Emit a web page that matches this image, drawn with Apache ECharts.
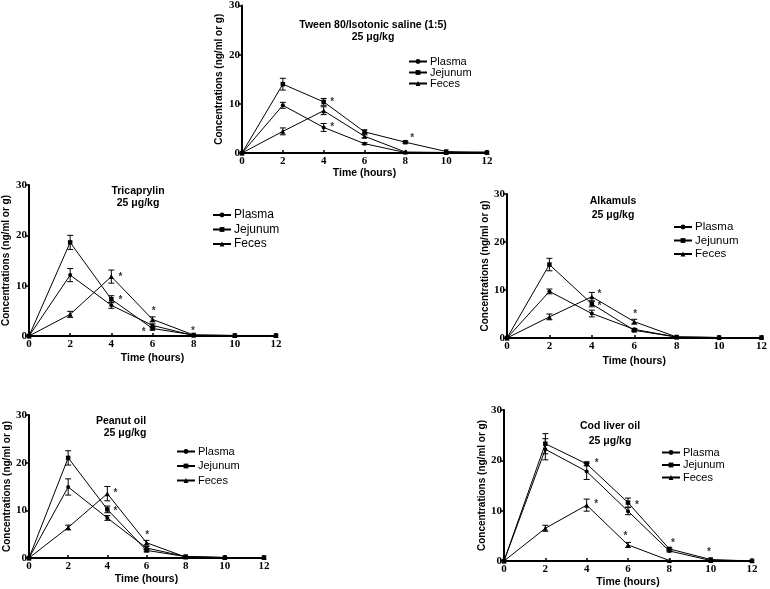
<!DOCTYPE html>
<html>
<head>
<meta charset="utf-8">
<script src="https://cdn.jsdelivr.net/npm/echarts@6/dist/echarts.min.js"></script>
<style>html,body{margin:0;padding:0;background:#fff}#c{width:770px;height:589px}</style>
</head>
<body>
<div id="c"></div>
<script>
var times = [0, 2, 4, 6, 8, 10, 12];
var seriesNames = ['Plasma', 'Jejunum', 'Feces'];
var yTicks = [0, 10, 20, 30];

// Tween 80/Isotonic saline (1:5)
var tweenPlasma   = [0, 9.7, 5.2, 1.9, 0.1, 0.1, 0.1];
var tweenJejunum  = [0, 14.0, 10.4, 4.3, 2.2, 0.3, 0.1];
var tweenFeces    = [0, 4.4, 8.6, 3.4, 0.2, 0.1, 0.2];
var tweenPlasmaErr  = [0, 0.6, 0.8, 0.2, 0, 0, 0];
var tweenJejunumErr = [0, 1.2, 0.7, 0.4, 0.2, 0, 0];
var tweenFecesErr   = [0, 0.7, 0.8, 0.3, 0, 0, 0];
var tweenStars = [[4.42, 10.75], [4.42, 5.65], [8.33, 3.36]];

// Tricaprylin
var triPlasma   = [0, 12.1, 6.1, 2.1, 0.1, 0.1, 0.1];
var triJejunum  = [0, 18.6, 7.3, 1.5, 0.2, 0.1, 0.1];
var triFeces    = [0, 4.3, 11.8, 3.3, 0.2, 0.1, 0.1];
var triPlasmaErr  = [0, 1.3, 0.6, 0.3, 0, 0, 0];
var triJejunumErr = [0, 1.4, 0.7, 0.3, 0, 0, 0];
var triFecesErr   = [0, 0.6, 1.3, 0.5, 0, 0, 0];
var triStars = [[4.44, 12.1], [4.44, 7.45], [6.06, 5.3], [5.57, 1.1], [7.97, 1.3]];

// Alkamuls
var alkPlasma   = [0, 9.7, 5.1, 1.8, 0.2, 0.1, 0.1];
var alkJejunum  = [0, 15.3, 7.1, 1.6, 0.2, 0.1, 0.1];
var alkFeces    = [0, 4.4, 8.6, 3.4, 0.2, 0.1, 0.1];
var alkPlasmaErr  = [0, 0.5, 0.7, 0.2, 0, 0, 0];
var alkJejunumErr = [0, 1.3, 0.6, 0.3, 0, 0, 0];
var alkFecesErr   = [0, 0.6, 0.9, 0.5, 0, 0, 0];
var alkStars = [[4.36, 9.5], [4.36, 7.0], [6.04, 5.3]];

// Peanut oil
var peaPlasma   = [0, 14.9, 8.4, 2.1, 0.3, 0.1, 0.1];
var peaJejunum  = [0, 21.0, 10.2, 1.6, 0.3, 0.1, 0.1];
var peaFeces    = [0, 6.4, 13.5, 3.2, 0.2, 0.1, 0.1];
var peaPlasmaErr  = [0, 1.7, 0.5, 0.3, 0, 0, 0];
var peaJejunumErr = [0, 1.5, 0.7, 0.3, 0, 0, 0];
var peaFecesErr   = [0, 0.5, 1.5, 0.5, 0, 0, 0];
var peaStars = [[4.41, 14.1], [4.41, 10.2], [6.03, 5.1]];

// Cod liver oil
var codPlasma   = [0, 22.2, 17.8, 9.9, 2.0, 0.1, 0];
var codJejunum  = [0, 23.3, 19.3, 11.6, 2.4, 0.3, 0];
var codFeces    = [0, 6.5, 11.1, 3.2, 0.1, 0.1, 0.1];
var codPlasmaErr  = [0, 2.1, 1.6, 0.7, 0.2, 0, 0];
var codJejunumErr = [0, 2.0, 0.4, 0.9, 0.2, 0, 0];
var codFecesErr   = [0, 0.6, 1.2, 0.5, 0, 0, 0];
var codStars = [[4.49, 19.9], [4.46, 11.6], [6.43, 11.5], [5.88, 5.3], [8.17, 3.9], [9.92, 2.2]];

var panelTitles = [
  ['Tween 80/Isotonic saline (1:5)', '25 μg/kg'],
  ['Tricaprylin', '25 μg/kg'],
  ['Alkamuls', '25 μg/kg'],
  ['Peanut oil', '25 μg/kg'],
  ['Cod liver oil', '25 μg/kg']
];

var panels = [
  {values: [tweenPlasma, tweenJejunum, tweenFeces], errs: [tweenPlasmaErr, tweenJejunumErr, tweenFecesErr], stars: tweenStars,
   grid: {left: 242, top: 4, width: 245, height: 149}, yGap: 18, xGap: 15,
   legend: {left: 408, top: 56, gap: 0, font: 11},
   title: [{x: 373, y: 25}, {x: 373, y: 37}]},
  {values: [triPlasma, triJejunum, triFeces], errs: [triPlasmaErr, triJejunumErr, triFecesErr], stars: triStars,
   grid: {left: 29, top: 185, width: 247, height: 151}, yGap: 18, xGap: 17,
   legend: {left: 212, top: 209, gap: 2.5, font: 12},
   title: [{x: 138, y: 191}, {x: 138, y: 203}]},
  {values: [alkPlasma, alkJejunum, alkFeces], errs: [alkPlasmaErr, alkJejunumErr, alkFecesErr], stars: alkStars,
   grid: {left: 507, top: 194, width: 258, height: 144}, yGap: 15, xGap: 18,
   legend: {left: 673, top: 221, gap: 1.5, font: 11.5},
   title: [{x: 613, y: 201}, {x: 613, y: 215}]},
  {values: [peaPlasma, peaJejunum, peaFeces], errs: [peaPlasmaErr, peaJejunumErr, peaFecesErr], stars: peaStars,
   grid: {left: 29, top: 415, width: 235, height: 143}, yGap: 17, xGap: 16,
   legend: {left: 176, top: 446, gap: 3.5, font: 11},
   title: [{x: 121, y: 421}, {x: 125, y: 433}]},
  {values: [codPlasma, codJejunum, codFeces], errs: [codPlasmaErr, codJejunumErr, codFecesErr], stars: codStars,
   grid: {left: 504, top: 410, width: 248, height: 151}, yGap: 15, xGap: 16,
   legend: {left: 661, top: 447, gap: 1.5, font: 11},
   title: [{x: 610, y: 426}, {x: 610, y: 441}]}
];

var symbols = ['circle', 'rect', 'triangle'];
var symbolSizes = [4, 4.5, 5];
var serifFont = 'Liberation Serif';
var sansFont = 'Liberation Sans';

var grids = [], xAxes = [], yAxes = [], legends = [], series = [], graphics = [];

function errRender(params, api) {
  var x = api.value(0), y = api.value(1), e = api.value(2);
  if (!e) return null;
  var top = api.coord([x, y + e]);
  var bot = api.coord([x, y - e]);
  var cw = 3;
  var st = {stroke: '#000', lineWidth: 1};
  return {type: 'group', children: [
    {type: 'line', shape: {x1: top[0], y1: top[1], x2: bot[0], y2: bot[1]}, style: st},
    {type: 'line', shape: {x1: top[0] - cw, y1: top[1], x2: top[0] + cw, y2: top[1]}, style: st},
    {type: 'line', shape: {x1: bot[0] - cw, y1: bot[1], x2: bot[0] + cw, y2: bot[1]}, style: st}
  ]};
}

panels.forEach(function (p, i) {
  grids.push(Object.assign({containLabel: false}, p.grid));
  xAxes.push({
    gridIndex: i, type: 'value', min: 0, max: 12, interval: 2,
    name: 'Time (hours)', nameLocation: 'middle', nameGap: p.xGap,
    nameTextStyle: {fontFamily: sansFont, fontWeight: 'bold', fontSize: 10.5, color: '#000'},
    axisLine: {show: true, onZero: false, lineStyle: {color: '#000', width: 2}},
    axisTick: {show: true, inside: true, length: 3, lineStyle: {color: '#000', width: 1.5}},
    axisLabel: {fontFamily: serifFont, fontWeight: 'bold', fontSize: 11, color: '#000', margin: 3},
    splitLine: {show: false}
  });
  yAxes.push({
    gridIndex: i, type: 'value', min: yTicks[0], max: yTicks[yTicks.length - 1], interval: yTicks[1] - yTicks[0],
    name: 'Concentrations (ng/ml or g)', nameLocation: 'middle', nameGap: p.yGap,
    nameTextStyle: {fontFamily: sansFont, fontWeight: 'bold', fontSize: 10, color: '#000'},
    axisLine: {show: true, onZero: false, lineStyle: {color: '#000', width: 2}},
    axisTick: {show: true, inside: false, length: 3, lineStyle: {color: '#000', width: 1.5}},
    axisLabel: {fontFamily: serifFont, fontWeight: 'bold', fontSize: 11, color: '#000', margin: 2},
    splitLine: {show: false}
  });
  legends.push({
    orient: 'vertical', left: p.legend.left, top: p.legend.top,
    itemWidth: 18, itemHeight: 6, itemGap: p.legend.gap, padding: 0,
    selectedMode: false, data: seriesNames,
    textStyle: {fontFamily: sansFont, fontSize: p.legend.font, color: '#000', lineHeight: 11, padding: [0, 0, 0, -2]}
  });
  seriesNames.forEach(function (nm, k) {
    series.push({
      name: nm, type: 'line', xAxisIndex: i, yAxisIndex: i,
      data: times.map(function (t, j) { return [t, p.values[k][j]]; }),
      symbol: symbols[k], symbolSize: symbolSizes[k], showAllSymbol: true,
      lineStyle: {color: '#000', width: 1}, itemStyle: {color: '#000'},
      silent: true, animation: false, z: 3
    });
    series.push({
      type: 'custom', xAxisIndex: i, yAxisIndex: i, renderItem: errRender,
      data: times.map(function (t, j) { return [t, p.values[k][j], p.errs[k][j]]; }),
      encode: {x: 0, y: 1}, silent: true, animation: false, z: 4
    });
  });
  series.push({
    type: 'scatter', xAxisIndex: i, yAxisIndex: i, data: p.stars,
    symbol: 'circle', symbolSize: 1, itemStyle: {color: 'rgba(0,0,0,0)'}, silent: true, animation: false, z: 5,
    label: {show: true, position: 'inside', formatter: '*', fontFamily: sansFont, fontWeight: 'bold', fontSize: 10, color: '#000', offset: [0, 2]}
  });
  p.title.forEach(function (pos, r) {
    graphics.push({
      type: 'text', x: pos.x, y: pos.y, silent: true,
      style: {text: panelTitles[i][r], align: 'center', verticalAlign: 'middle', fill: '#000',
              font: 'bold 10.5px "Liberation Sans"'}
    });
  });
});

var chart = echarts.init(document.getElementById('c'), null, {renderer: 'canvas'});
chart.setOption({
  backgroundColor: '#fff',
  animation: false,
  grid: grids, xAxis: xAxes, yAxis: yAxes, legend: legends, series: series, graphic: graphics
});
</script>
</body>
</html>
